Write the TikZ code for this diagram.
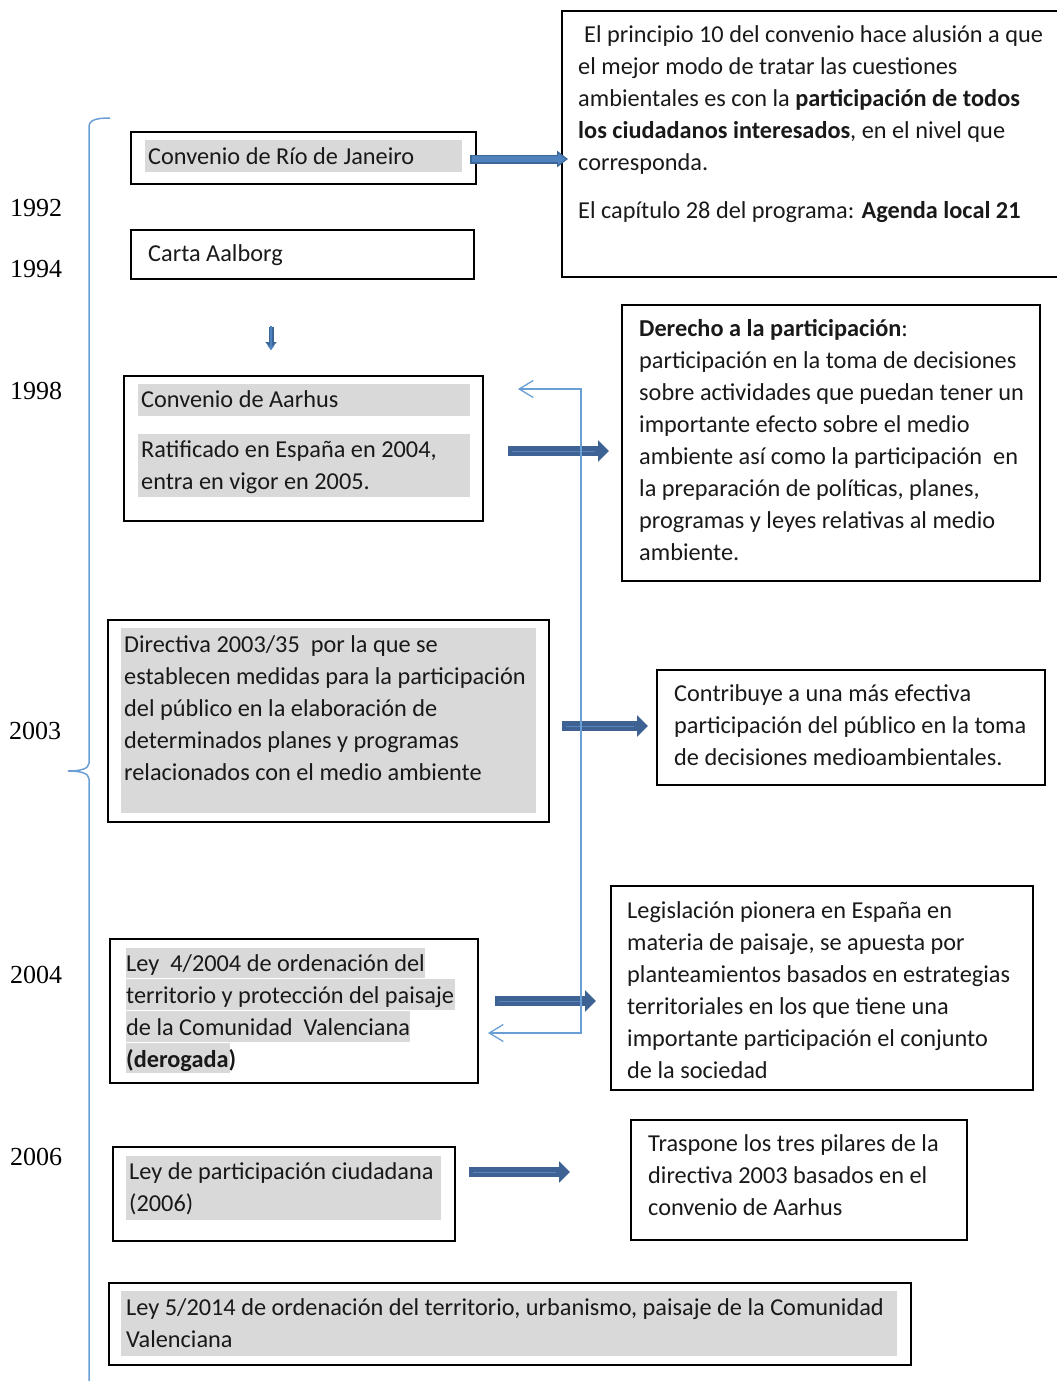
\documentclass[tikz,border=0pt]{standalone}
\usepackage{fontspec}
\setmainfont{Carlito}
\newfontfamily\yearfont{Liberation Serif}
\usetikzlibrary{arrows.meta}
\definecolor{hl}{HTML}{D9D9D9}
\definecolor{arrdark}{HTML}{3D6293}
\definecolor{arrstripe}{HTML}{5A84B8}
\definecolor{arrlight}{HTML}{4F81BD}
\definecolor{arrborder}{HTML}{3A6698}
\definecolor{conncol}{HTML}{6A9FD6}
\newcommand{\fl}{\rule{0pt}{24pt}}
\begin{document}
\begin{tikzpicture}[x=1pt,y=-1pt,
  box/.style={draw=black, line width=1.8pt, anchor=north west, inner sep=0pt},
  txt/.style={font=\fontsize{24.3}{32}\selectfont, inner sep=0pt, anchor=north west, align=left, text=black!90},
  year/.style={font=\yearfont\fontsize{26}{30}\selectfont, inner sep=0pt, anchor=base west},
  blk/.style={line width=9.5pt, draw=arrdark, -{Triangle[length=11pt,width=21pt]}},
  stripe/.style={line width=0.8pt, draw=arrstripe},
  conn/.style={draw=conncol, line width=1.3pt, {Straight Barb[length=14pt,width=17pt]}-{Straight Barb[length=14pt,width=17pt]}},
  brace/.style={draw=conncol, line width=1.5pt}
]
\useasboundingbox (0,0) rectangle (1057,1381);

% gray highlights
\fill[hl] (145,140) rectangle (462,172);
\fill[hl] (138,384) rectangle (470,416);
\fill[hl] (138,434) rectangle (470,497);
\fill[hl] (121,628) rectangle (536,813);
\fill[hl] (126,948) rectangle (425,978);
\fill[hl] (126,979) rectangle (455,1010);
\fill[hl] (126,1011) rectangle (410,1042);
\fill[hl] (126,1043) rectangle (230,1073);
\fill[hl] (126,1156) rectangle (441,1220);
\fill[hl] (121,1291) rectangle (897,1356);

% boxes
\node[box, minimum width=500pt, minimum height=266pt] (principio) at (561,10) {};
\node[box, minimum width=345pt, minimum height=52pt] (rio) at (130,131) {};
\node[box, minimum width=343pt, minimum height=49pt] (carta) at (130,229) {};
\node[box, minimum width=359pt, minimum height=145pt] (aarhus) at (123,375) {};
\node[box, minimum width=418pt, minimum height=276pt] (derecho) at (621,304) {};
\node[box, minimum width=441pt, minimum height=202pt] (directiva) at (107,619) {};
\node[box, minimum width=388pt, minimum height=115pt] (contribuye) at (656,669) {};
\node[box, minimum width=422pt, minimum height=204pt] (legis) at (610,885) {};
\node[box, minimum width=368pt, minimum height=144pt] (ley4) at (109,938) {};
\node[box, minimum width=342pt, minimum height=94pt] (leypart) at (112,1146) {};
\node[box, minimum width=336pt, minimum height=120pt] (traspone) at (630,1119) {};
\node[box, minimum width=802pt, minimum height=82pt] (ley5) at (108,1282) {};

% texts
\node[txt] (t1) at (578,18) {\fl\hspace*{6pt}El principio 10 del convenio hace alusión a que\\el mejor modo de tratar las cuestiones\\ambientales es con la \textbf{participación de todos}\\\textbf{los ciudadanos interesados}, en el nivel que\\corresponda.};
\node[txt] (t2) at (578,194) {\fl El capítulo 28 del programa: \textbf{Agenda local 21}};
\node[txt] (t3) at (148,140) {\fl Convenio de Río de Janeiro};
\node[txt] (t4) at (148,237) {\fl Carta Aalborg};
\node[txt] (t5) at (141,383) {\fl Convenio de Aarhus};
\node[txt] (t6) at (141,433) {\fl Ratificado en España en 2004,\\entra en vigor en 2005.};
\node[txt] (t7) at (639,312) {\fl\textbf{Derecho a la participación}:\\participación en la toma de decisiones\\sobre actividades que puedan tener un\\importante efecto sobre el medio\\ambiente así como la participación\ \ en\\la preparación de políticas, planes,\\programas y leyes relativas al medio\\ambiente.};
\node[txt] (t8) at (124,628) {\fl Directiva 2003/35\ \ por la que se\\establecen medidas para la participación\\del público en la elaboración de\\determinados planes y programas\\relacionados con el medio ambiente};
\node[txt] (t9) at (674,677) {\fl Contribuye a una más efectiva\\participación del público en la toma\\de decisiones medioambientales.};
\node[txt] (t10) at (627,894) {\fl Legislación pionera en España en\\materia de paisaje, se apuesta por\\planteamientos basados en estrategias\\territoriales en los que tiene una\\importante participación el conjunto\\de la sociedad};
\node[txt] (t11) at (126,947) {\fl Ley\ \ 4/2004 de ordenación del\\territorio y protección del paisaje\\de la Comunidad\ \ Valenciana\\\textbf{(derogada)}};
\node[txt] (t12) at (129,1155) {\fl Ley de participación ciudadana\\(2006)};
\node[txt] (t13) at (648,1127) {\fl Traspone los tres pilares de la\\directiva 2003 basados en el\\convenio de Aarhus};
\node[txt] (t14) at (126,1291) {\fl Ley 5/2014 de ordenación del territorio, urbanismo, paisaje de la Comunidad\\Valenciana};

% years
\node[year] (y1) at (10,216) {1992};
\node[year] (y2) at (10,277) {1994};
\node[year] (y3) at (10,399) {1998};
\node[year] (y4) at (9,739) {2003};
\node[year] (y5) at (10,983) {2004};
\node[year] (y6) at (10,1165) {2006};

% brace
\draw[brace] (110,118) .. controls (96,118) and (89,120) .. (89,127) -- (89,763)
  .. controls (89,769) and (80,771) .. (68,771)
  .. controls (80,771) and (89,773) .. (89,779) -- (89,1381);

% Rio arrow (light with border)
\coordinate (r1) at (470,159);
\coordinate (r2) at (568,159);
\coordinate (r3) at (566,159);
\draw[line width=9pt, draw=arrborder, -{Triangle[length=11pt,width=16pt]}] (r1) -- (r2);
\draw[line width=6pt, draw=arrlight, -{Triangle[length=8pt,width=11pt]}] ([xshift=1.5pt]r1) -- (r3);

% down arrow
\coordinate (d1) at (271,327);
\coordinate (d2) at (271,349);
\draw[line width=5pt, draw=arrborder, -{Triangle[length=7pt,width=11pt]}] (d1) -- (d2);
\draw[line width=2.6pt, draw=arrlight, -{Triangle[length=5pt,width=7pt]}] ([yshift=1pt]d1) -- ([yshift=-1.3pt]d2);

% dark block arrows
\coordinate (a1) at (508,451); \coordinate (a2) at (609,451);
\coordinate (b1) at (562,726); \coordinate (b2) at (648,726);
\coordinate (c1) at (495,1001); \coordinate (c2) at (596,1001);
\coordinate (e1) at (469,1172); \coordinate (e2) at (570,1172);
\foreach \s/\e in {a1/a2,b1/b2,c1/c2,e1/e2}{
  \draw[blk] (\s) -- (\e);
  \draw[stripe] ([xshift=4pt]\s) -- ([xshift=-14pt]\e);
}

% connector between Ley 4/2004 and Aarhus
\coordinate (k1) at (488,1033);
\coordinate (k2) at (518,389);
\draw[conn] (k1) -- (581,1033) -- (581,389) -- (k2);

\end{tikzpicture}
\end{document}
